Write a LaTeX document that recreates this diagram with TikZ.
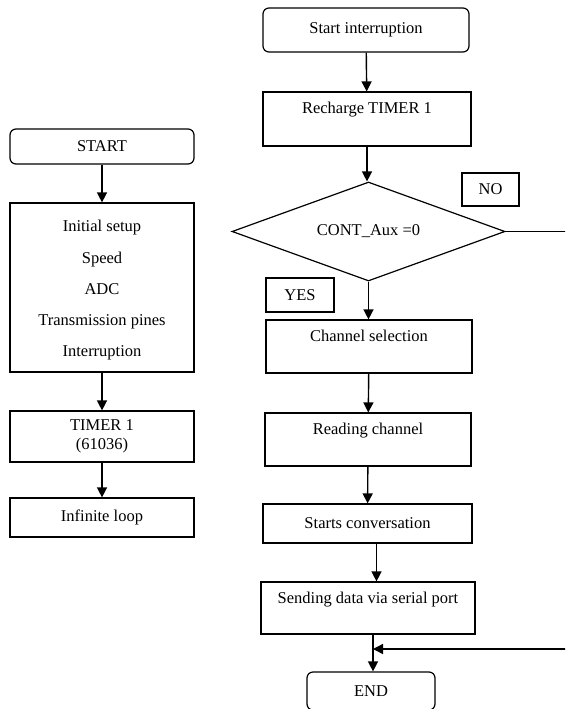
\documentclass[tikz,border=0pt]{standalone}
\usepackage{fontspec}
\setmainfont{Liberation Serif}
\usetikzlibrary{shapes.geometric, arrows.meta, positioning, calc}

\begin{document}
\begin{tikzpicture}[
        x=1pt, y=-1pt,
        every node/.style={font=\fontsize{16.5}{19.8}\selectfont},
        box/.style={draw, line width=1.2pt, inner sep=0pt},
        term/.style={box, rounded corners=6pt},
        arr/.style={-{Triangle[length=10pt, width=10pt]}, line width=1.4pt}
    ]
        \clip (0,0) rectangle (565,709);

        % Main program
        \node[term, minimum width=184pt, minimum height=35pt] (start) at (102,146.5) {START};
        \node[box, minimum width=184pt, minimum height=169pt] (setup) at (102,287.5) {};
        \node[below=14.5pt of setup.north, align=center, font=\fontsize{16.5}{31.2}\selectfont] (setuptxt) {Initial setup\\Speed\\ADC\\Transmission pines\\Interruption};
        \node[box, minimum width=184pt, minimum height=51pt, align=center, font=\fontsize{16.5}{18.5}\selectfont] (timer) at (102,436.5) {TIMER 1\\(61036)};
        \node[box, minimum width=184pt, minimum height=39pt] (loop) at (102,517.5) {Infinite loop};

        \draw[arr] (start) -- (setup);
        \draw[arr] (setup) -- (timer);
        \draw[arr] (timer) -- (loop);

        % Interruption routine
        \node[term, minimum width=206pt, minimum height=44pt] (intr) at (366,30) {Start interruption};
        \node[box, minimum width=208pt, minimum height=54pt] (recharge) at (367,119) {};
        \node[below=7.5pt of recharge.north] (rechargetxt) {Recharge TIMER 1};
        \node[box, diamond, aspect=2.76, minimum width=273pt, minimum height=99pt] (cond) at (368.5,231.5) {CONT\_Aux =0};
        \node[box, minimum width=57pt, minimum height=33pt] (no) at (490.5,189.5) {NO};
        \node[box, minimum width=68pt, minimum height=34pt] (yes) at (300,295) {YES};
        \node[box, minimum width=206pt, minimum height=53pt] (chsel) at (369,346.5) {};
        \node[below=7.5pt of chsel.north] (chseltxt) {Channel selection};
        \node[box, minimum width=206pt, minimum height=53pt] (read) at (368,439.5) {};
        \node[below=7.5pt of read.north] (readtxt) {Reading channel};
        \node[box, minimum width=209pt, minimum height=39pt] (conv) at (367.5,523.5) {Starts conversation};
        \node[box, minimum width=214pt, minimum height=52pt] (send) at (368,608) {};
        \node[below=7.5pt of send.north] (sendtxt) {Sending data via serial port};
        \node[term, minimum width=128pt, minimum height=38pt] (fin) at (371,691) {END};

        \coordinate (noright) at (580,231.5);
        \coordinate (merge) at (373,649);

        \draw[arr] (intr) -- (recharge);
        \draw[arr] (recharge.south) -- (recharge.south |- cond.north);
        \draw[arr] (cond.south) -- (cond.south |- chsel.north);
        \draw[arr] (chsel) -- (read);
        \draw[arr] (read) -- (conv);
        \draw[arr] ([xshift=9pt]conv.south) -- ([xshift=9pt]conv.south |- send.north);
        \draw[arr] (send.south -| merge) -- (fin.north -| merge);
        % NO branch
        \draw[arr] (cond.east) -- (noright) |- (merge);
    \end{tikzpicture}
\end{document}
